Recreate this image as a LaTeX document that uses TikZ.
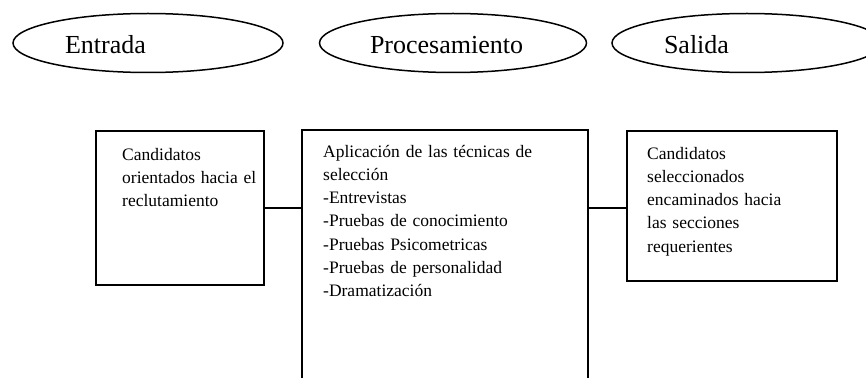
\documentclass[tikz,border=0pt]{standalone}
\usepackage{fontspec}
\setmainfont{Liberation Serif}
\usetikzlibrary{shapes.geometric,calc}
\tikzstyle{fase}=[ellipse, draw=black, line width=1.5pt, minimum width=270pt, minimum height=59pt, inner sep=0pt, text width=166pt, text height=22pt, text depth=0pt, align=left, font=\fontsize{26}{30}\selectfont]
\tikzstyle{box}=[rectangle, draw=black, line width=1.5pt, inner sep=0pt, anchor=north west]
\tikzstyle{annot}=[align=left, inner sep=0pt, anchor=base west, font=\fontsize{17.5}{23.3}\selectfont]
\tikzstyle{enlace}=[line width=1.5pt]

\begin{document}
\begin{tikzpicture}[x=1pt, y=-1pt]
	\useasboundingbox (0,0) rectangle (866,377);

	\node[fase](entrada) at (148,43){Entrada};
	\node[fase, minimum width=267pt](procesamiento) at (453,43){Procesamiento};
	\node[fase](salida) at (747,43){Salida};

	\node[box, minimum width=168pt, minimum height=154pt](cand) at (95,130){};
	\node[box, minimum width=286pt, minimum height=270pt](proc) at (301,129){};
	\node[box, minimum width=210pt, minimum height=150pt](sel) at (626,130){};

	\node[annot, text width=140pt](candtxt) at ($(cand.north west)+(27,30)$) {Candidatos\\orientados hacia el\\reclutamiento};
	\node[annot, text width=260pt](proctxt) at ($(proc.north west)+(22,28)$) {Aplicación de las técnicas de\\selección\\-Entrevistas\\-Pruebas de conocimiento\\-Pruebas Psicometricas\\-Pruebas de personalidad\\-Dramatización};
	\node[annot, text width=185pt](seltxt) at ($(sel.north west)+(21,29)$) {Candidatos\\seleccionados\\encaminados hacia\\las secciones\\requerientes};

	\draw[enlace] (cand.east) -- (cand.east -| proc.west);
	\draw[enlace] (cand.east -| proc.east) -- (cand.east -| sel.west);

\end{tikzpicture}
\end{document}
